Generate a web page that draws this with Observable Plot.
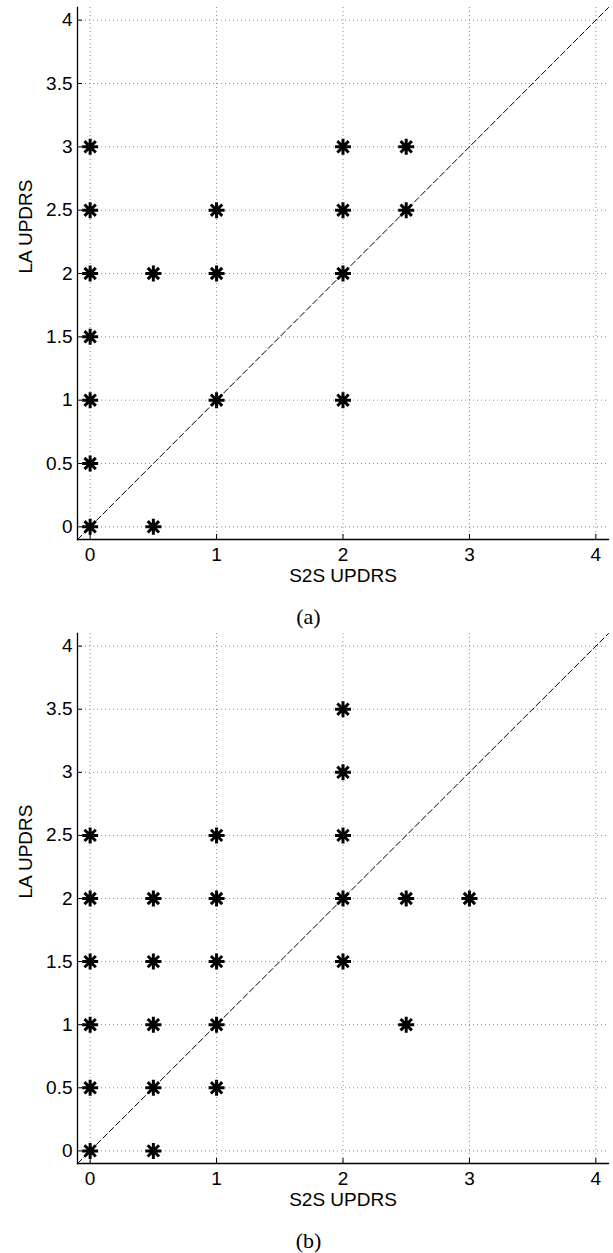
<!DOCTYPE html>
<html>
<head>
<meta charset="utf-8">
<script src="https://cdn.jsdelivr.net/npm/d3@7"></script>
<script src="https://cdn.jsdelivr.net/npm/@observablehq/plot@0.6"></script>
<style>
  html, body { margin: 0; padding: 0; background: #fff; overflow: hidden; }
  .cap { width: 613px; height: 30px; line-height: 30px; text-align: center; font-family: "Liberation Serif", "Times New Roman", serif; font-size: 22px; color: #000; padding-left: 4px; box-sizing: border-box; }
  svg { display: block; }
</style>
</head>
<body>
<div id="a"></div>
<div class="cap">(a)</div>
<div id="b"></div>
<div class="cap">(b)</div>
<script>
// Panel (a): S2S UPDRS (x) vs LA UPDRS (y)
const aS2S = [0, 0, 0, 0, 0, 0, 0, 0.5, 0.5, 1, 1, 1, 2, 2, 2, 2, 2.5, 2.5];
const aLA  = [0, 0.5, 1, 1.5, 2, 2.5, 3, 0, 2, 1, 2, 2.5, 1, 2, 2.5, 3, 2.5, 3];
// Panel (b)
const bS2S = [0, 0, 0, 0, 0, 0, 0.5, 0.5, 0.5, 0.5, 0.5, 1, 1, 1, 1, 1, 2, 2, 2, 2, 2, 2.5, 2.5, 3];
const bLA  = [0, 0.5, 1, 1.5, 2, 2.5, 0, 0.5, 1, 1.5, 2, 0.5, 1, 1.5, 2, 2.5, 1.5, 2, 2.5, 3, 3.5, 1, 2, 2];

const xTicks = [0, 1, 2, 3, 4];
const yTicks = [0, 0.5, 1, 1.5, 2, 2.5, 3, 3.5, 4];
const axisDomain = [-0.1, 4.1];
const diagonal = [-0.1, 4.1];
const xLabel = "S2S UPDRS";
const yLabel = "LA UPDRS";

const asterisk = {
  draw(ctx, size) {
    const r = Math.sqrt(size / Math.PI);
    const d = r * Math.SQRT1_2;
    ctx.moveTo(-r, 0); ctx.lineTo(r, 0);
    ctx.moveTo(0, -r); ctx.lineTo(0, r);
    ctx.moveTo(-d, -d); ctx.lineTo(d, d);
    ctx.moveTo(-d, d); ctx.lineTo(d, -d);
  }
};

function panel(xs, ys, opts) {
  const data = xs.map((x, i) => ({x, y: ys[i]}));
  return Plot.plot({
    width: 613,
    height: opts.height,
    marginLeft: 77,
    marginRight: 5,
    marginTop: opts.marginTop,
    marginBottom: opts.marginBottom,
    style: {fontFamily: "'Liberation Sans', Arial, Helvetica, sans-serif", fontSize: "19px", background: "#fff", color: "#000"},
    x: {domain: axisDomain},
    y: {domain: axisDomain},
    marks: [
      Plot.gridX(xTicks, {stroke: "#8a8a8a", strokeOpacity: 1, strokeDasharray: "1,3"}),
      Plot.gridY(yTicks, {stroke: "#8a8a8a", strokeOpacity: 1, strokeDasharray: "1,3"}),
      Plot.line(diagonal, {x: d => d, y: d => d, stroke: "#000", strokeWidth: 1, strokeDasharray: "6,3"}),
      Plot.frame({anchor: "left", stroke: "#000", strokeWidth: 1.3}),
      Plot.frame({anchor: "bottom", stroke: "#000", strokeWidth: 1.3}),
      Plot.axisX({ticks: xTicks, tickSize: 5, dy: -5, tickPadding: 8, fontSize: 19, label: null, tickFormat: d => String(d)}),
      Plot.axisY({ticks: yTicks, tickSize: 5, dx: 5, tickPadding: 5, fontSize: 19, label: null, tickFormat: d => String(d)}),
      Plot.text([xLabel], {frameAnchor: "bottom", dy: 42, text: d => d, fontSize: 19}),
      Plot.text([yLabel], {frameAnchor: "left", dx: -52, rotate: -90, text: d => d, fontSize: 19}),
      Plot.dot(data, {x: "x", y: "y", symbol: asterisk, r: 8, stroke: "#000", strokeWidth: 3, fill: "none"})
    ]
  });
}

document.getElementById("a").append(panel(aS2S, aLA, {height: 602, marginTop: 7, marginBottom: 63}));
document.getElementById("b").append(panel(bS2S, bLA, {height: 594, marginTop: 1, marginBottom: 63}));
</script>
</body>
</html>
